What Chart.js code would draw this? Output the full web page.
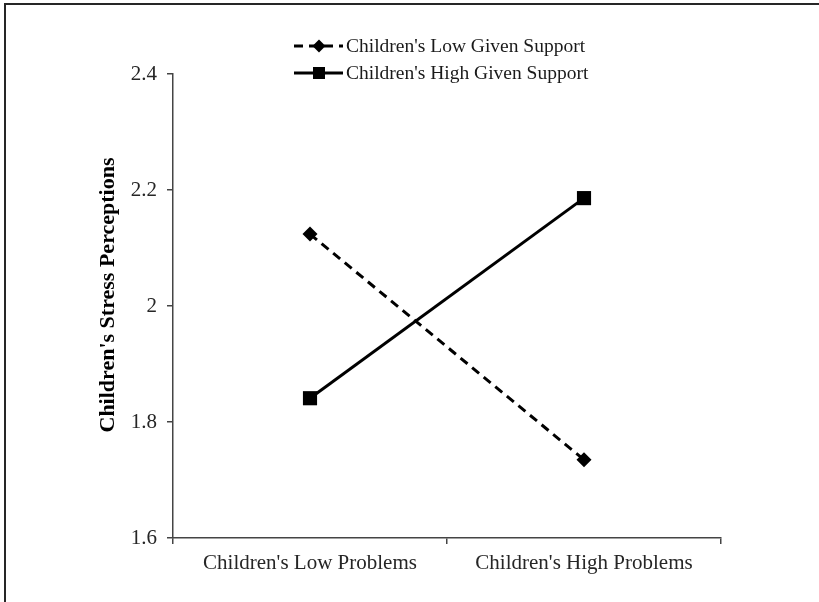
<!DOCTYPE html>
<html>
<head>
<meta charset="utf-8">
<script src="https://cdn.jsdelivr.net/npm/chart.js@4.4.0/dist/chart.umd.min.js"></script>
<style>
  html, body { margin: 0; padding: 0; background: #fff; }
  #wrap { position: relative; width: 819px; height: 602px; }
  #frame { position: absolute; left: 4px; top: 3px; right: 0; bottom: 0;
           border-top: 2px solid #262626; border-left: 2px solid #262626; pointer-events: none; }
  canvas { position: absolute; left: 0; top: 0; }
</style>
</head>
<body>
<div id="wrap">
  <canvas id="grafico" width="819" height="602"></canvas>
  <div id="frame"></div>
</div>
<script>
(function() {
/* ---------- Dados ---------- */
const categorias = ["Children's Low Problems", "Children's High Problems"];
const lowSupport = [2.124, 1.735];
const highSupport = [1.841, 2.186];
const yTicks = [1.6, 1.8, 2.0, 2.2, 2.4];
const serieNomes = ["Children's Low Given Support", "Children's High Given Support"];
const tituloY = "Children's Stress Perceptions";

const FONTE = "'Liberation Serif', 'Times New Roman', serif";

/* ---------- Legenda empilhada + título do eixo Y ---------- */
const legendaPlugin = {
  id: 'legendaEmpilhada',
  afterDraw(chart) {
    const ctx = chart.ctx;
    const linhas = [46, 73];
    chart.data.datasets.forEach((ds, i) => {
      const y = linhas[i];
      ctx.save();
      ctx.strokeStyle = ds.borderColor;
      ctx.lineWidth = ds.borderWidth;
      ctx.setLineDash(ds.borderDash || []);
      ctx.beginPath();
      ctx.moveTo(294, y);
      ctx.lineTo(343, y);
      ctx.stroke();
      ctx.setLineDash([]);
      ctx.fillStyle = ds.pointBackgroundColor;
      const cx = 319;
      if (ds.pointStyle === 'rectRot') {
        const r = 6.5;
        ctx.beginPath();
        ctx.moveTo(cx, y - r); ctx.lineTo(cx + r, y); ctx.lineTo(cx, y + r); ctx.lineTo(cx - r, y);
        ctx.closePath();
        ctx.fill();
      } else {
        ctx.fillRect(cx - 6, y - 6, 12, 12);
      }
      ctx.fillStyle = '#1a1a1a';
      ctx.font = '19.5px ' + FONTE;
      ctx.textBaseline = 'middle';
      ctx.textAlign = 'left';
      ctx.fillText(ds.label, 346, y + 1);
      ctx.restore();
    });

    // título do eixo Y (um pouco acima do centro do eixo, como no original)
    ctx.save();
    ctx.translate(108, 295);
    ctx.rotate(-Math.PI / 2);
    ctx.fillStyle = '#000';
    ctx.font = 'bold 22px ' + FONTE;
    ctx.textAlign = 'center';
    ctx.textBaseline = 'middle';
    ctx.fillText(tituloY, 0, 0);
    ctx.restore();
  }
};

/* ---------- Gráfico ---------- */
const ctx = document.getElementById('grafico').getContext('2d');
new Chart(ctx, {
  type: 'line',
  data: {
    labels: categorias,
    datasets: [
      {
        label: serieNomes[0], data: lowSupport,
        borderColor: '#000', borderWidth: 3, borderDash: [9, 6],
        pointStyle: 'rectRot', pointRadius: 7.5, pointHoverRadius: 7.5,
        pointBackgroundColor: '#000', pointBorderColor: '#000', pointBorderWidth: 0
      },
      {
        label: serieNomes[1], data: highSupport,
        borderColor: '#000', borderWidth: 3,
        pointStyle: 'rect', pointRadius: 10, pointHoverRadius: 10,
        pointBackgroundColor: '#000', pointBorderColor: '#000', pointBorderWidth: 0
      }
    ]
  },
  options: {
    responsive: false,
    animation: false,
    layout: { padding: { left: 97, top: 74, right: 98, bottom: 0 } },
    plugins: { legend: { display: false }, tooltip: { enabled: false } },
    scales: {
      x: {
        type: 'category',
        offset: true,
        grid: { display: true, drawOnChartArea: false, drawTicks: true, tickLength: 6, offset: true, color: '#444', lineWidth: 1.5 },
        border: { display: true, color: '#444', width: 1.5 },
        ticks: { color: '#262626', font: { family: FONTE, size: 21 }, padding: 7, maxRotation: 0 },
        afterFit(s) { s.height = 64; }
      },
      y: {
        min: 1.6, max: 2.4,
        afterBuildTicks(s) { s.ticks = yTicks.map(v => ({ value: v })); },
        grid: { display: true, drawOnChartArea: false, drawTicks: true, tickLength: 6, color: '#444', lineWidth: 1.5 },
        border: { display: true, color: '#444', width: 1.5 },
        ticks: {
          color: '#262626', font: { family: FONTE, size: 21 }, padding: 10,
          callback: v => String(+Number(v).toFixed(1))
        },
        afterFit(s) { s.width = 76; }
      }
    }
  },
  plugins: [legendaPlugin]
});
})();
</script>
</body>
</html>
